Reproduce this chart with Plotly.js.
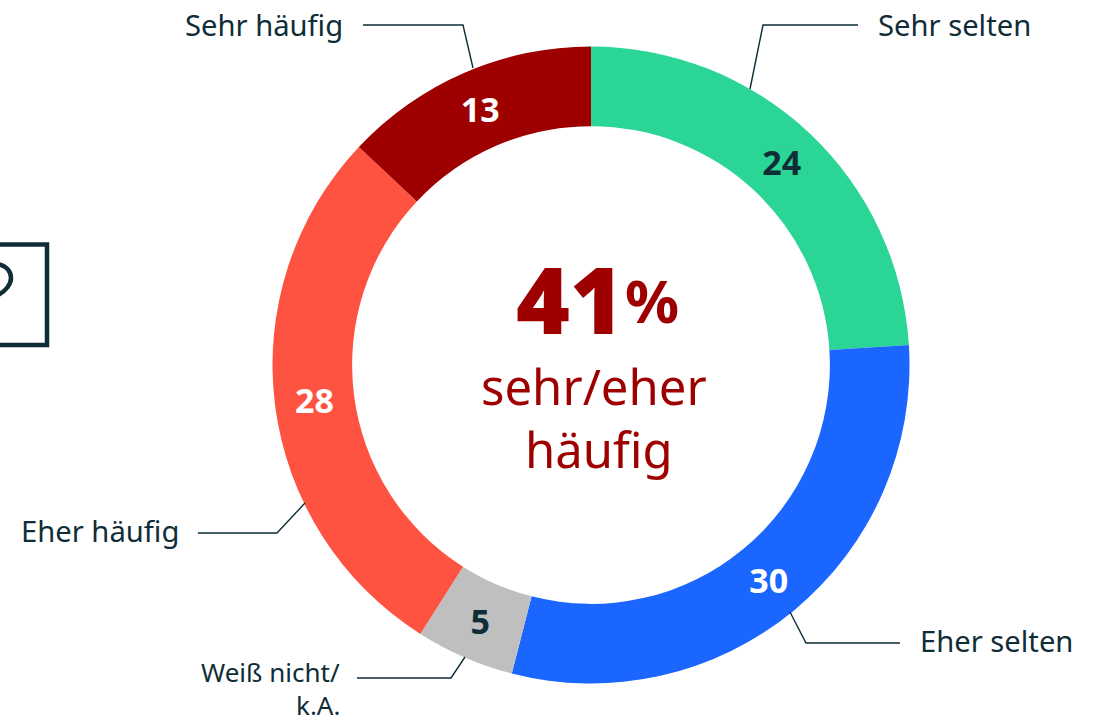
<!DOCTYPE html>
<html><head><meta charset="utf-8">
<script src="https://cdn.plot.ly/plotly-3.0.1.min.js"></script>
<style>html,body{margin:0;padding:0;background:#fff}#c{width:1104px;height:723px}</style>
</head><body><div id="c"></div>
<script>
const categories = ["Sehr selten","Eher selten","Weiß nicht/ k.A.","Eher häufig","Sehr häufig"];
const values = [24,30,5,28,13];
const sliceColors = ["#2AD596","#1A66FF","#BFBFBF","#FF5341","#9E0000"];
const valueColors = ["#0F2D37","#FFFFFF","#0F2D37","#FFFFFF","#FFFFFF"];
const W=1104,H=723,DARK="#0F2D37",RED="#9E0000",FONT="'Noto Sans', sans-serif";
const px=x=>x/W, py=y=>1-y/H;
const leaders=[
 [[363,25],[463,25],[473,68]],
 [[858,25],[763,25],[750,89]],
 [[900,643],[806,643],[790,612]],
 [[198,533],[277,533],[305,503]],
 [[357,678],[451,678],[465,657]]
];
const labels=[
 {t:"Sehr häufig",x:345,y:25,a:"right",s:29.2},
 {t:"Sehr selten",x:876,y:25,a:"left",s:29.2},
 {t:"Eher selten",x:918,y:641,a:"left",s:29.2},
 {t:"Eher häufig",x:181,y:531,a:"right",s:29.2},
 {t:"Weiß nicht/",x:342,y:672,a:"right",s:26},
 {t:"k.A.",x:342,y:705,a:"right",s:26}
];
const shapes=leaders.map(p=>({type:"path",xref:"paper",yref:"paper",
 path:"M"+p.map(q=>px(q[0])+","+py(q[1])).join(" L"),line:{color:DARK,width:1.4}}));
// partly cropped icon at the left edge
shapes.push({type:"path",xref:"paper",yref:"paper",
 path:`M${px(-5)},${py(244.5)} L${px(47)},${py(244.5)} L${px(47)},${py(345)} L${px(-5)},${py(345)}`,
 line:{color:DARK,width:4.5}});
shapes.push({type:"path",xref:"paper",yref:"paper",
 path:`M${px(-2)},${py(264)} C${px(7)},${py(266)} ${px(11)},${py(272)} ${px(11)},${py(278)} C${px(11)},${py(284)} ${px(6)},${py(291)} ${px(-2)},${py(295)}`,
 line:{color:DARK,width:4.5}});
const annotations=labels.map(l=>({text:l.t,xref:"paper",yref:"paper",x:px(l.x),y:py(l.y),
 xanchor:l.a,yanchor:"middle",align:l.a,showarrow:false,font:{family:FONT,size:l.s,color:DARK}}));
annotations.push({text:"41",xref:"paper",yref:"paper",x:px(570),y:py(298),xanchor:"center",yanchor:"middle",showarrow:false,font:{family:FONT,size:92,color:RED,weight:900}});
annotations.push({text:"<b>%</b>",xref:"paper",yref:"paper",x:px(652),y:py(300),xanchor:"center",yanchor:"middle",showarrow:false,font:{family:FONT,size:60,color:RED}});
annotations.push({text:"sehr/eher",xref:"paper",yref:"paper",x:px(593.5),y:py(386),xanchor:"center",yanchor:"middle",showarrow:false,font:{family:FONT,size:49,color:RED}});
annotations.push({text:"häufig",xref:"paper",yref:"paper",x:px(598.5),y:py(449),xanchor:"center",yanchor:"middle",showarrow:false,font:{family:FONT,size:49,color:RED}});
Plotly.newPlot("c",[{type:"pie",labels:categories,values:values,sort:false,direction:"clockwise",rotation:0,hole:0.75,
 marker:{colors:sliceColors,line:{width:0}},
 textinfo:"value",textposition:"inside",insidetextorientation:"horizontal",
 insidetextfont:{family:FONT,size:34,color:valueColors},
 texttemplate:"<b>%{value}</b>",
 domain:{x:[px(591-318.5),px(591+318.5)],y:[py(683.5),py(46.5)]},showlegend:false,hoverinfo:"label+value"}],
 {width:W,height:H,margin:{l:0,r:0,t:0,b:0},paper_bgcolor:"#fff",showlegend:false,shapes,annotations},
 {displayModeBar:false,responsive:false});
</script></body></html>
